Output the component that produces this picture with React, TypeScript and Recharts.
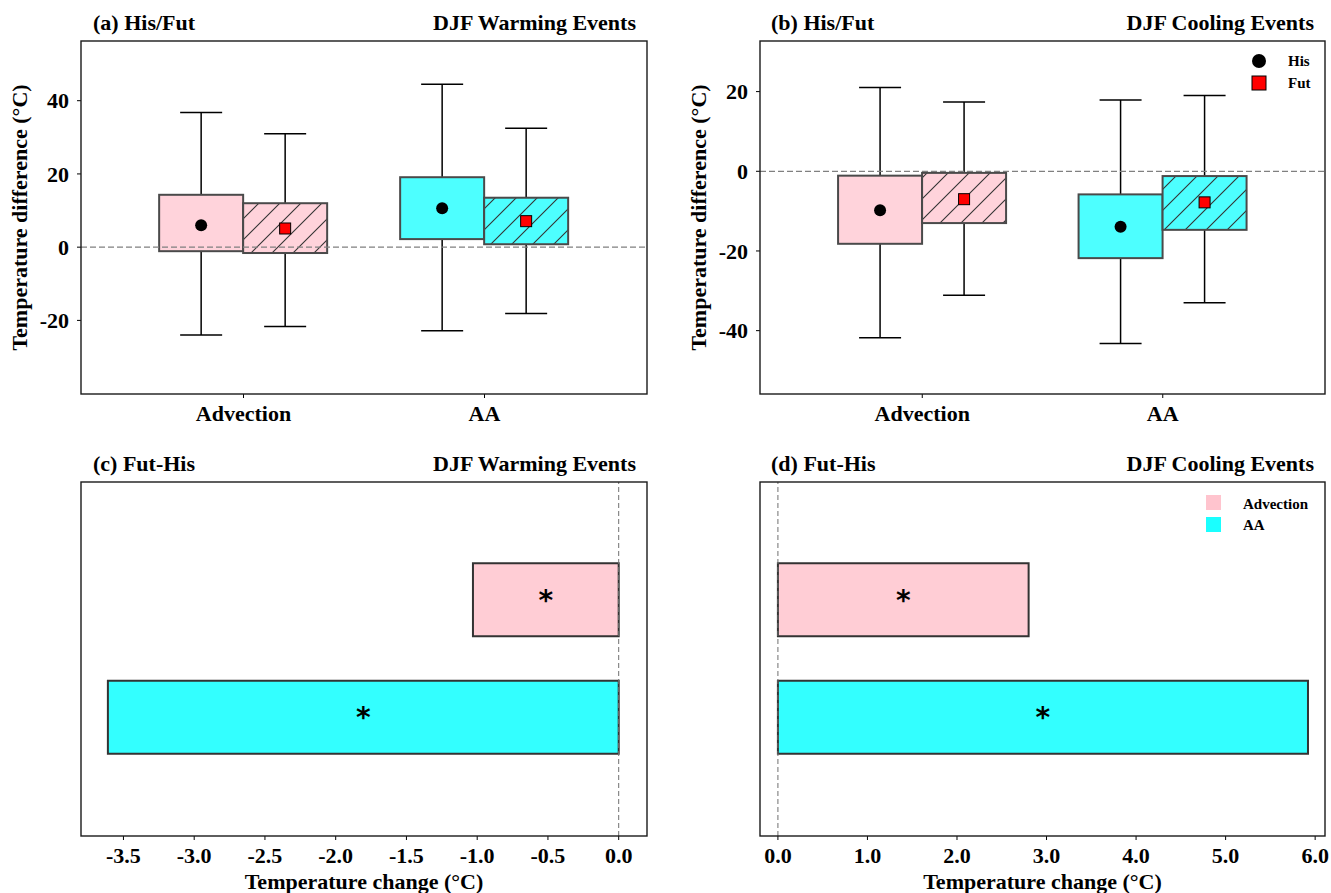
import React from 'react';
import { ComposedChart, BarChart, Bar, XAxis, YAxis, ReferenceLine, Cell, LabelList } from 'recharts';

// ---------- data ----------
const categories = ['Advection', 'AA'];

// (a) DJF warming events, His / Fut box statistics
const warmHisMin = [-24.0, -22.8];
const warmHisQ1 = [-1.1, 2.2];
const warmHisQ3 = [14.3, 19.1];
const warmHisMax = [36.8, 44.5];
const warmHisMean = [6.0, 10.6];
const warmFutMin = [-21.7, -18.1];
const warmFutQ1 = [-1.6, 0.8];
const warmFutQ3 = [12.0, 13.5];
const warmFutMax = [31.0, 32.5];
const warmFutMean = [5.1, 7.1];

// (b) DJF cooling events
const coolHisMin = [-41.8, -43.2];
const coolHisQ1 = [-18.2, -21.8];
const coolHisQ3 = [-1.1, -5.8];
const coolHisMax = [21.0, 17.9];
const coolHisMean = [-9.8, -13.9];
const coolFutMin = [-31.1, -33.0];
const coolFutQ1 = [-13.0, -14.7];
const coolFutQ3 = [-0.4, -1.2];
const coolFutMax = [17.4, 19.0];
const coolFutMean = [-7.0, -7.8];

// (c), (d) Fut-His change
const warmChange = [-1.03, -3.61];
const coolChange = [2.8, 5.92];
const significance = ['*', '*'];

// ticks
const warmYTicks = [-20, 0, 20, 40];
const coolYTicks = [-40, -20, 0, 20];
const warmXTicks = [-3.5, -3.0, -2.5, -2.0, -1.5, -1.0, -0.5, 0.0];
const coolXTicks = [0, 1, 2, 3, 4, 5, 6];

// ---------- styles ----------
const FONT = "'Liberation Serif', 'Times New Roman', Times, serif";
const boxColors = ['#FFD3DB', '#4DFFFF'];
const barColors = ['#FFCDD5', '#33FFFF'];
const legendColors = ['#FFC4CE', '#1AFFFF'];

const tickStyle = { fill: '#000', fontSize: 22, fontFamily: FONT, fontWeight: 'bold' };

function buildBoxRows(his: number[][], fut: number[][]) {
  return categories.map((name, i) => ({
    name,
    hisMin: his[0][i], hisQ1: his[1][i], hisQ3: his[2][i], hisMax: his[3][i], hisMean: his[4][i],
    futMin: fut[0][i], futQ1: fut[1][i], futQ3: fut[2][i], futMax: fut[3][i], futMean: fut[4][i],
  }));
}

const warmRows = buildBoxRows(
  [warmHisMin, warmHisQ1, warmHisQ3, warmHisMax, warmHisMean],
  [warmFutMin, warmFutQ1, warmFutQ3, warmFutMax, warmFutMean]
);
const coolRows = buildBoxRows(
  [coolHisMin, coolHisQ1, coolHisQ3, coolHisMax, coolHisMean],
  [coolFutMin, coolFutQ1, coolFutQ3, coolFutMax, coolFutMean]
);
const warmChangeRows = categories.map((name, i) => ({ name, change: warmChange[i], sig: significance[i] }));
const coolChangeRows = categories.map((name, i) => ({ name, change: coolChange[i], sig: significance[i] }));

// ---------- box shape ----------
const BoxShape = (props: any) => {
  const { x, y, width, height, payload, prefix, hatched, marker } = props;
  if (!payload) return null;
  const lo = payload[prefix + 'Min'];
  const hi = payload[prefix + 'Max'];
  const top = Math.min(y, y + height);
  const h = Math.abs(height);
  const pix = (v: number) => top + (h * (hi - v)) / (hi - lo);
  const cx = x + width / 2;
  const yq1 = pix(payload[prefix + 'Q1']);
  const yq3 = pix(payload[prefix + 'Q3']);
  const ym = pix(payload[prefix + 'Mean']);
  const capHalf = width / 4;
  const color = boxColors[categories.indexOf(payload.name)];
  return (
    <g>
      <line x1={cx} x2={cx} y1={top} y2={yq3} stroke="#000" strokeWidth={1.5} />
      <line x1={cx} x2={cx} y1={yq1} y2={top + h} stroke="#000" strokeWidth={1.5} />
      <line x1={cx - capHalf} x2={cx + capHalf} y1={top} y2={top} stroke="#000" strokeWidth={1.5} />
      <line x1={cx - capHalf} x2={cx + capHalf} y1={top + h} y2={top + h} stroke="#000" strokeWidth={1.5} />
      <rect x={x} y={yq3} width={width} height={yq1 - yq3} fill={color} />
      {hatched && <rect x={x} y={yq3} width={width} height={yq1 - yq3} fill="url(#hatch)" />}
      <rect x={x} y={yq3} width={width} height={yq1 - yq3} fill="none" stroke="#4a4a4a" strokeWidth={2} />
      {marker === 'circle' ? (
        <circle cx={cx} cy={ym} r={6} fill="#000" />
      ) : (
        <rect x={cx - 5.5} y={ym - 5.5} width={11} height={11} fill="#FF0000" stroke="#000" strokeWidth={1} />
      )}
    </g>
  );
};

const Star = (p: any) => {
  const cx = p.x + p.width / 2;
  const cy = p.y + p.height / 2;
  return (
    <text x={cx} y={cy + 10} textAnchor="middle" fontSize={28} fontWeight="bold" fontFamily="'DejaVu Sans', sans-serif" fill="#000">
      {p.value}
    </text>
  );
};

function BoxPanel({ rows, domain, ticks, left, width, marginLeft, marginRight }: any) {
  return (
    <div style={{ position: 'absolute', left, top: 0, width, height: 440 }}>
      <ComposedChart
        width={width}
        height={440}
        data={rows}
        margin={{ top: 41, right: marginRight, bottom: 16, left: marginLeft }}
        barCategoryGap="15%"
        barGap={0}
      >
        <XAxis
          dataKey="name"
          type="category"
          height={30}
          padding={{ left: 42, right: 42 }}
          axisLine={false}
          stroke="#000"
          tickSize={4}
          tickMargin={7}
          tick={tickStyle}
          interval={0}
        />
        <YAxis
          type="number"
          domain={domain}
          ticks={ticks}
          allowDataOverflow
          width={60}
          axisLine={false}
          stroke="#000"
          tickSize={4}
          tickMargin={8}
          tick={tickStyle}
          interval={0}
        />
        <Bar
          dataKey={(d: any) => [d.hisMin, d.hisMax]}
          isAnimationActive={false}
          shape={(p: any) => <BoxShape {...p} prefix="his" marker="circle" />}
        />
        <Bar
          dataKey={(d: any) => [d.futMin, d.futMax]}
          isAnimationActive={false}
          shape={(p: any) => <BoxShape {...p} prefix="fut" marker="square" hatched />}
        />
        <ReferenceLine y={0} stroke="#808080" strokeDasharray="6 3" strokeWidth={1.3} />
      </ComposedChart>
    </div>
  );
}

function ChangePanel({ rows, domain, ticks, left, width, marginLeft, marginRight }: any) {
  return (
    <div style={{ position: 'absolute', left, top: 440, width, height: 453 }}>
      <BarChart
        layout="vertical"
        width={width}
        height={453}
        data={rows}
        margin={{ top: 42, right: marginRight, bottom: 27, left: marginLeft }}
        barCategoryGap="19%"
      >
        <XAxis
          type="number"
          domain={domain}
          ticks={ticks}
          allowDataOverflow
          height={30}
          axisLine={false}
          stroke="#000"
          tickSize={4}
          tickMargin={7}
          tick={tickStyle}
          interval={0}
          tickFormatter={(v: number) => v.toFixed(1)}
        />
        <YAxis type="category" dataKey="name" hide padding={{ top: 59, bottom: 60 }} />
        <Bar dataKey="change" isAnimationActive={false} stroke="#333" strokeWidth={2}>
          {rows.map((r: any, i: number) => (
            <Cell key={r.name} fill={barColors[i]} />
          ))}
          <LabelList dataKey="sig" content={Star} />
        </Bar>
        <ReferenceLine x={0} stroke="#707070" strokeDasharray="5 3" strokeWidth={1} />
      </BarChart>
    </div>
  );
}

const T = (p: any) => (
  <text fontFamily={FONT} fontWeight="bold" fill="#000" fontSize={22} {...p} />
);

export default function App() {
  return (
    <div style={{ position: 'absolute', left: 0, top: 0, width: 1331, height: 893, background: '#fff' }}>
      <BoxPanel rows={warmRows} domain={[-40.1, 56.3]} ticks={warmYTicks} left={0} width={670} marginLeft={21} marginRight={23} />
      <BoxPanel rows={coolRows} domain={[-55.9, 32.7]} ticks={coolYTicks} left={680} width={651} marginLeft={20} marginRight={6} />
      <ChangePanel rows={warmChangeRows} domain={[-3.8, 0.2]} ticks={warmXTicks} left={0} width={670} marginLeft={81} marginRight={23} />
      <ChangePanel rows={coolChangeRows} domain={[-0.2, 6.11]} ticks={coolXTicks} left={680} width={651} marginLeft={80} marginRight={6} />

      <svg width={1331} height={893} style={{ position: 'absolute', left: 0, top: 0, pointerEvents: 'none' }}>
        <defs>
          <pattern id="hatch" patternUnits="userSpaceOnUse" width={21} height={21}>
            <path d="M0,21 L21,0 M-5,5 L5,-5 M16,26 L26,16" stroke="#333" strokeWidth={1.1} />
          </pattern>
        </defs>
        {/* frames */}
        <rect x={81} y={41} width={566} height={353} fill="none" stroke="#1a1a1a" strokeWidth={1.4} />
        <rect x={760} y={41} width={565} height={353} fill="none" stroke="#1a1a1a" strokeWidth={1.4} />
        <rect x={81} y={482} width={566} height={354} fill="none" stroke="#1a1a1a" strokeWidth={1.4} />
        <rect x={760} y={482} width={565} height={354} fill="none" stroke="#1a1a1a" strokeWidth={1.4} />

        {/* titles */}
        <T x={93} y={30}>(a) His/Fut</T>
        <T x={636} y={30} textAnchor="end">DJF Warming Events</T>
        <T x={771} y={30}>(b) His/Fut</T>
        <T x={1314} y={30} textAnchor="end">DJF Cooling Events</T>
        <T x={93} y={471}>(c) Fut-His</T>
        <T x={636} y={471} textAnchor="end">DJF Warming Events</T>
        <T x={771} y={471}>(d) Fut-His</T>
        <T x={1314} y={471} textAnchor="end">DJF Cooling Events</T>

        {/* axis titles */}
        <T transform="translate(27,217.5) rotate(-90)" textAnchor="middle">Temperature difference (°C)</T>
        <T transform="translate(706,217.5) rotate(-90)" textAnchor="middle">Temperature difference (°C)</T>
        <T x={364} y={889} textAnchor="middle">Temperature change (°C)</T>
        <T x={1042.5} y={889} textAnchor="middle">Temperature change (°C)</T>

        {/* legend (b) */}
        <circle cx={1259} cy={61} r={7} fill="#000" />
        <rect x={1252} y={76} width={14} height={14} fill="#FF0000" stroke="#000" strokeWidth={1} />
        <T x={1288} y={66} fontSize={15}>His</T>
        <T x={1288} y={88} fontSize={15}>Fut</T>

        {/* legend (d) */}
        <rect x={1206} y={495} width={15} height={15} fill={legendColors[0]} />
        <rect x={1206} y={517} width={15} height={15} fill={legendColors[1]} />
        <T x={1243} y={509} fontSize={15}>{categories[0]}</T>
        <T x={1243} y={530} fontSize={15}>{categories[1]}</T>
      </svg>
    </div>
  );
}
